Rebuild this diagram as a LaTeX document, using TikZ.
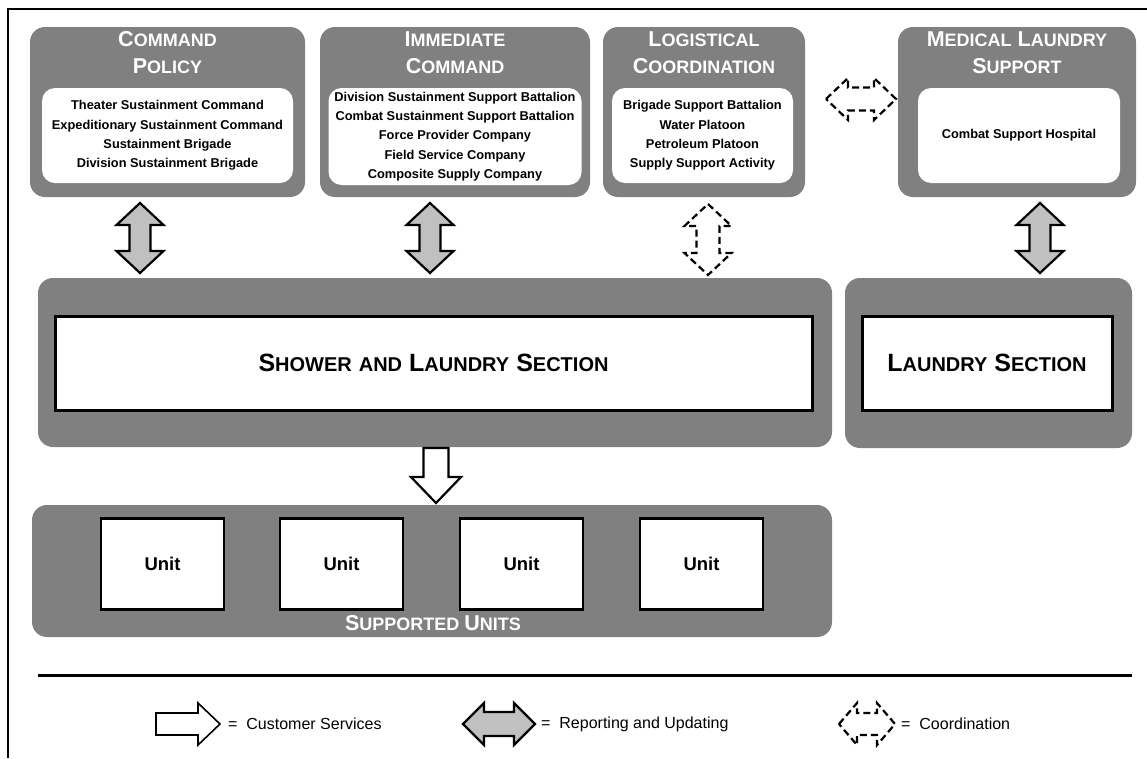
\documentclass[tikz,border=0pt]{standalone}
\usepackage{fontspec}
\setmainfont{Liberation Sans}
\usetikzlibrary{calc}
\definecolor{boxgrey}{RGB}{128,128,128}
\definecolor{arrgrey}{RGB}{192,192,192}
\newcommand\capA[2]{{\fontsize{21.5}{27}\selectfont#1}{\fontsize{18}{27}\selectfont#2}}
\newcommand\capB[2]{{\fontsize{25}{30}\selectfont#1}{\fontsize{20}{30}\selectfont#2}}
% vertical double arrow: style, top tip, length, head half width, shaft half width, head length
\newcommand\VDarrow[6]{\draw[#1] (#2) -- ++(#4,#6) -- ++({-(#4-#5)},0) -- ++(0,{#3-2*#6}) -- ++({#4-#5},0) -- ++(-#4,#6) -- ++(-#4,-#6) -- ++({#4-#5},0) -- ++(0,{-(#3-2*#6)}) -- ++({-(#4-#5)},0) -- cycle;}
% horizontal double arrow: style, left tip, length, head half height, shaft half height, head length
\newcommand\HDarrow[6]{\draw[#1] (#2) -- ++(#6,-#4) -- ++(0,{#4-#5}) -- ++({#3-2*#6},0) -- ++(0,{-(#4-#5)}) -- ++(#6,#4) -- ++(-#6,#4) -- ++(0,{-(#4-#5)}) -- ++({-(#3-2*#6)},0) -- ++(0,{#4-#5}) -- cycle;}
% single arrow down: style, tail centre, shaft half width, shaft length, head half width, head length
\newcommand\SDarrow[6]{\draw[#1] (#2) -- ++(#3,0) -- ++(0,#4) -- ++({#5-#3},0) -- ++(-#5,#6) -- ++(-#5,-#6) -- ++({#5-#3},0) -- ++(0,-#4) -- cycle;}
% single arrow right
\newcommand\SRarrow[6]{\draw[#1] (#2) -- ++(0,-#3) -- ++(#4,0) -- ++(0,{-(#5-#3)}) -- ++(#6,#5) -- ++(-#6,#5) -- ++(0,{-(#5-#3)}) -- ++(-#4,0) -- cycle;}
\begin{document}
\begin{tikzpicture}[x=1pt,y=-1pt,
  outer/.style={fill=boxgrey, rounded corners=15pt, inner sep=0pt},
  innerbox/.style={fill=white, rounded corners=13pt, inner sep=0pt, align=center, font=\bfseries\fontsize{12.8}{19.3}\selectfont},
  secbox/.style={fill=white, draw=black, line width=3pt, inner sep=0pt, font=\bfseries},
  unitbox/.style={fill=white, draw=black, line width=2.5pt, inner sep=0pt, font=\bfseries\fontsize{18.5}{22}\selectfont},
  ttl/.style={text=white, align=center, inner sep=0pt, font=\bfseries\fontsize{21}{27}\selectfont},
  reparrow/.style={fill=arrgrey, draw=black, line width=2.2pt, line join=miter},
  coordarrow/.style={fill=white, draw=black, line width=2.2pt, dash pattern=on 7pt off 4pt},
  custarrow/.style={fill=white, draw=black, line width=1.6pt},
  legtext/.style={anchor=west, inner sep=0pt, font=\fontsize{16}{19}\selectfont}
]
\useasboundingbox (0,0) rectangle (1147,758);
% frame
\coordinate (fbl) at (8,758);
\coordinate (ftl) at (8,9);
\coordinate (ftr) at (1147,9);
\draw[line width=2pt] (fbl) -- (ftl) -- (ftr);

% top boxes
\node[outer, minimum width=275pt, minimum height=170pt] (cp) at (167.5,112) {};
\node[outer, minimum width=270pt, minimum height=170pt] (ic) at (455,112) {};
\node[outer, minimum width=202pt, minimum height=170pt] (lc) at (704,112) {};
\node[outer, minimum width=238pt, minimum height=170pt] (ml) at (1017,112) {};

\node[ttl] (cpT) at (167.5,53) {\capA{C}{OMMAND}\\\capA{P}{OLICY}};
\node[ttl] (icT) at (455,53) {\capA{I}{MMEDIATE}\\\capA{C}{OMMAND}};
\node[ttl] (lcT) at (704,53) {\capA{L}{OGISTICAL}\\\capA{C}{OORDINATION}};
\node[ttl] (mlT) at (1017,53) {\capA{M}{EDICAL}\hspace{6pt}\capA{L}{AUNDRY}\\\capA{S}{UPPORT}};

\node[innerbox, minimum width=251pt, minimum height=95pt] (cpi) at (167.5,135.5)
  {Theater Sustainment Command\\Expeditionary Sustainment Command\\Sustainment Brigade\\Division Sustainment Brigade};
\node[innerbox, minimum width=253pt, minimum height=97pt] (ici) at (455,136.5)
  {Division Sustainment Support Battalion\\Combat Sustainment Support Battalion\\Force Provider Company\\Field Service Company\\Composite Supply Company};
\node[innerbox, minimum width=181pt, minimum height=95pt] (lci) at (702.5,135.5)
  {Brigade Support Battalion\\Water Platoon\\Petroleum Platoon\\Supply Support Activity};
\node[innerbox, minimum width=202pt, minimum height=95pt] (mli) at (1019,135.5)
  {Combat Support Hospital};

% middle boxes
\node[outer, minimum width=794pt, minimum height=169pt] (sl) at (435,362.5) {};
\node[secbox, minimum width=757pt, minimum height=94pt] (sli) at (433.5,363)
  {\capB{S}{HOWER}\hspace{7pt}\capB{}{AND}\hspace{7pt}\capB{L}{AUNDRY}\hspace{7pt}\capB{S}{ECTION}};
\node[outer, minimum width=287pt, minimum height=170pt] (ls) at (988.5,363) {};
\node[secbox, minimum width=250pt, minimum height=94pt] (lsi) at (987,363) {\capB{L}{AUNDRY}\hspace{7pt}\capB{S}{ECTION}};

% supported units
\node[outer, minimum width=800pt, minimum height=132pt] (su) at (432,571) {};
\node[unitbox, minimum width=123pt, minimum height=91pt] (u1) at (162.5,564) {Unit};
\node[unitbox, minimum width=123pt, minimum height=91pt] (u2) at (341.5,564) {Unit};
\node[unitbox, minimum width=123pt, minimum height=91pt] (u3) at (521.5,564) {Unit};
\node[unitbox, minimum width=123pt, minimum height=91pt] (u4) at (701.5,564) {Unit};
\node[ttl] (suT) at (433,623) {\capA{S}{UPPORTED}\hspace{5pt}\capA{U}{NITS}};

% vertical arrows
\coordinate (a1) at (140,203);
\coordinate (a2) at (430,203);
\coordinate (a3) at (708,204);
\coordinate (a4) at (1040,203);
\VDarrow{reparrow}{a1}{70}{23.5}{10.5}{22}
\VDarrow{reparrow}{a2}{70}{23.5}{10.5}{22}
\VDarrow{coordarrow}{a3}{71}{23.5}{11.5}{22}
\VDarrow{reparrow}{a4}{70}{23.5}{10.5}{22}
% horizontal coordination arrow between logistical and medical
\coordinate (h1) at (826,99);
\HDarrow{coordarrow}{h1}{70}{21}{11.5}{22}
% customer services arrow
\coordinate (c1) at (436,448);
\SDarrow{custarrow, line width=2.2pt}{c1}{12.5}{29}{25}{26}

% separator
\coordinate (sepL) at (38,675);
\coordinate (sepR) at (1132,675);
\draw[line width=3pt] (sepL) -- (sepR);

% legend
\coordinate (l1) at (156,724);
\SRarrow{custarrow}{l1}{11}{42}{21}{22}
\node[legtext] (l1t) at (228,724) {= \ Customer Services};
\coordinate (l2) at (463,724);
\HDarrow{reparrow}{l2}{72}{21}{12}{21}
\node[legtext] (l2t) at (541,724) {= \ Reporting and Updating};
\coordinate (l3) at (839,724);
\HDarrow{coordarrow}{l3}{56}{21}{11}{18}
\node[legtext] (l3t) at (901,724) {= \ Coordination};
\end{tikzpicture}
\end{document}
